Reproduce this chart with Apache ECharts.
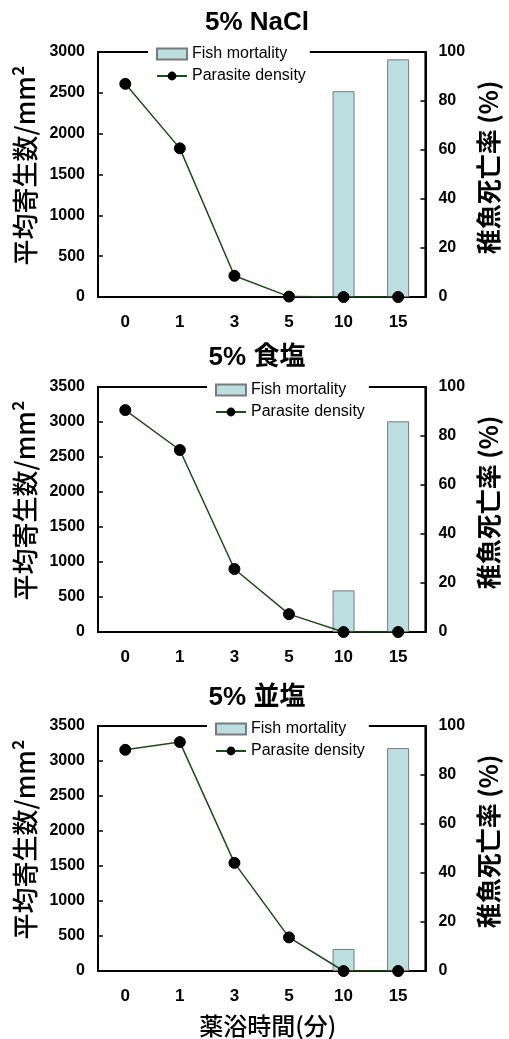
<!DOCTYPE html>
<html>
<head>
<meta charset="utf-8">
<script src="https://cdn.jsdelivr.net/npm/echarts@6/dist/echarts.min.js"></script>
<style>
html,body{margin:0;padding:0;background:#fff;}
#c{width:509px;height:1039px;}
</style>
</head>
<body>
<div id="c"></div>
<script>
var categories = ['0', '1', '3', '5', '10', '15'];
var titles = ['5% NaCl', '5% 食塩', '5% 並塩'];
var densityNaCl = [2610, 1820, 260, 5, 0, 0];
var densityShokuen = [3170, 2600, 900, 255, 0, 0];
var densityNamien = [3160, 3270, 1545, 480, 0, 0];
var mortalityNaCl = [0, 0, 0, 0, 84, 97];
var mortalityShokuen = [0, 0, 0, 0, 17, 86];
var mortalityNamien = [0, 0, 0, 0, 9, 91];
var leftMax = [3000, 3500, 3500];
var leftInterval = 500;
var rightMax = 100;
var rightInterval = 20;
var leftName = '平均寄生数/mm²';
var rightName = '稚魚死亡率 (%)';
var xName = '薬浴時間(分)';

var densities = [densityNaCl, densityShokuen, densityNamien];
var mortalities = [mortalityNaCl, mortalityShokuen, mortalityNamien];

var LAT = '"Liberation Sans", Arial, "Noto Sans CJK JP", sans-serif';
var gridTops = [52, 387, 726];
var titleTops = [10, 345, 685];
var legendPos = [[148, 43], [207, 379], [207, 718]];

var chart = echarts.init(document.getElementById('c'), null, {renderer: 'canvas'});

function plain(v) { return String(v); }

var grids = [], xAxes = [], yAxes = [], series = [], titleArr = [], legends = [];
for (var i = 0; i < 3; i++) {
  grids.push({left: 98, right: 83, top: gridTops[i], height: 245, show: true,
    borderColor: '#000', borderWidth: 2, backgroundColor: 'transparent', containLabel: false});
  titleArr.push({text: titles[i], left: 257, top: titleTops[i], textAlign: 'center', padding: 0,
    textStyle: {fontFamily: LAT, fontSize: 26, fontWeight: 'bold', color: '#000'}});
  legends.push({data: [{name: 'Fish mortality', icon: 'rect'}, {name: 'Parasite density'}], orient: 'vertical',
    left: legendPos[i][0], top: legendPos[i][1], padding: [3, 4, 3, 8],
    backgroundColor: '#fff', itemWidth: 30, itemHeight: 11, itemGap: 6,
    textStyle: {fontFamily: LAT, fontSize: 16, color: '#000'}});
  xAxes.push({type: 'category', gridIndex: i, data: categories, boundaryGap: true,
    axisLine: {lineStyle: {color: '#000', width: 2}},
    axisTick: {inside: true, length: 5, lineStyle: {color: '#000', width: 1.5}},
    axisLabel: {margin: 17, fontFamily: LAT, fontSize: 17, fontWeight: 'bold', color: '#000'},
    name: i === 2 ? xName : '', nameLocation: 'middle', nameGap: 43,
    nameTextStyle: {fontFamily: '"Noto Sans CJK JP", sans-serif', fontSize: 24, fontWeight: 500, color: '#000', padding: [0, 0, 0, 12]}});
  yAxes.push({type: 'value', gridIndex: i, position: 'left', min: 0, max: leftMax[i], interval: leftInterval,
    splitLine: {show: false},
    axisLine: {show: true, lineStyle: {color: '#000', width: 2}},
    axisTick: {show: true, inside: true, length: 5, lineStyle: {color: '#000', width: 1.5}},
    axisLabel: {margin: 13, fontFamily: LAT, fontSize: 16, fontWeight: 'bold', color: '#000', formatter: plain},
    name: leftName, nameLocation: 'middle', nameGap: 58, nameRotate: 90,
    nameTextStyle: {fontFamily: '"Noto Sans CJK JP", sans-serif', fontSize: 26, fontWeight: 500, color: '#000', padding: [0, 0, 0, 18]}});
  yAxes.push({type: 'value', gridIndex: i, position: 'right', min: 0, max: rightMax, interval: rightInterval,
    splitLine: {show: false},
    axisLine: {show: true, lineStyle: {color: '#000', width: 2}},
    axisTick: {show: true, inside: true, length: 5, lineStyle: {color: '#000', width: 1.5}},
    axisLabel: {margin: 13, fontFamily: LAT, fontSize: 16, fontWeight: 'bold', color: '#000', formatter: plain},
    name: rightName, nameLocation: 'middle', nameGap: 50, nameRotate: 90,
    nameTextStyle: {fontFamily: '"Noto Sans CJK JP", sans-serif', fontSize: 25, fontWeight: 'bold', color: '#000', padding: [0, 0, 0, 14]}});
  series.push({name: 'Fish mortality', type: 'bar', xAxisIndex: i, yAxisIndex: 2 * i + 1,
    data: mortalities[i].map(function (v) {
      return v === 0 ? {value: v, itemStyle: {borderWidth: 0, opacity: 0}} : v;
    }),
    barWidth: 22, z: 2,
    itemStyle: {color: '#bbdfe1', borderColor: '#7a7a7a', borderWidth: 1}});
  series.push({name: 'Parasite density', type: 'line', xAxisIndex: i, yAxisIndex: 2 * i,
    data: densities[i], symbol: 'circle', symbolSize: 11, z: 5,
    lineStyle: {color: '#1f4a1a', width: 1.5},
    itemStyle: {color: '#000', borderColor: '#000'}});
}

chart.setOption({
  animation: false,
  backgroundColor: '#fff',
  title: titleArr,
  legend: legends,
  grid: grids,
  xAxis: xAxes,
  yAxis: yAxes,
  series: series
});
</script>
</body>
</html>
